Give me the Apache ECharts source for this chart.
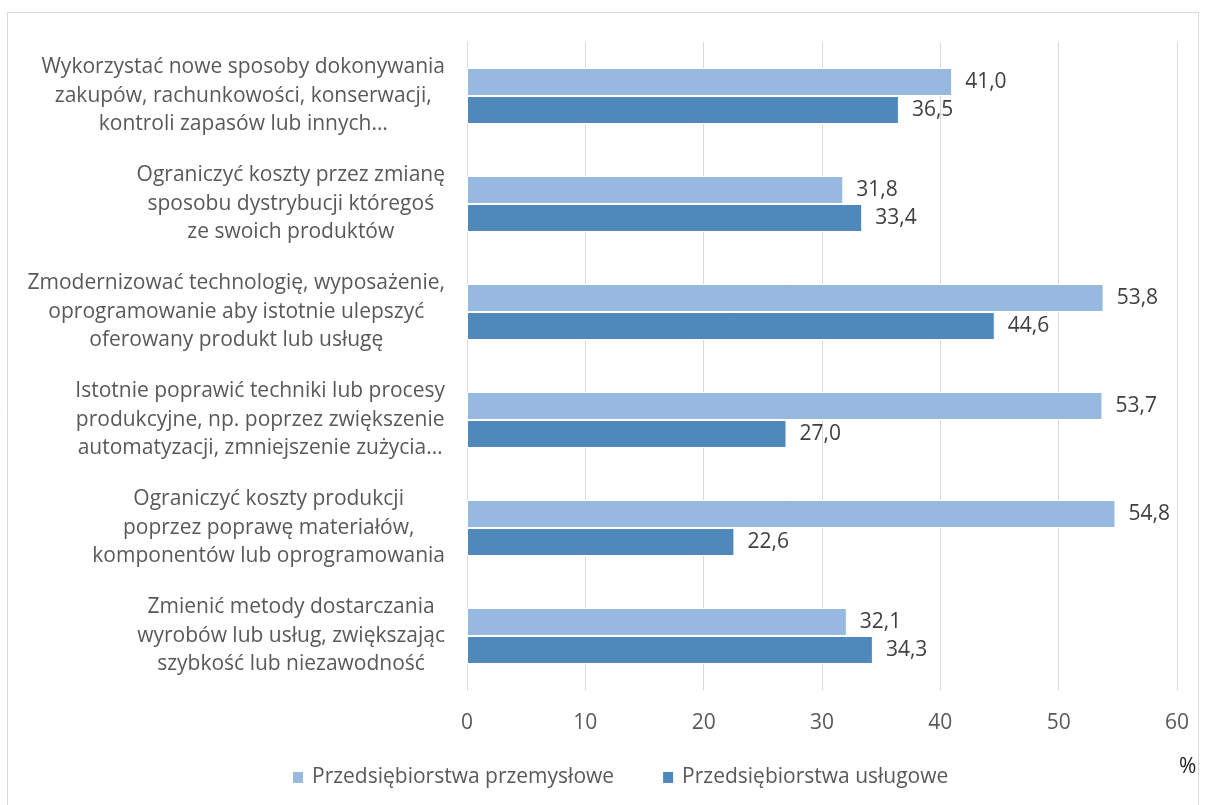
<!DOCTYPE html>
<html>
<head>
<meta charset="utf-8">
<script src="https://cdn.jsdelivr.net/npm/echarts@6/dist/echarts.min.js"></script>
<style>
html,body{margin:0;padding:0;background:#fff;}
#chart{width:1205px;height:805px;}
</style>
</head>
<body>
<div id="chart"></div>
<script>
var categories = [
  ["Wykorzystać nowe sposoby dokonywania", "zakupów, rachunkowości, konserwacji,", "kontroli zapasów lub innych…"],
  ["Ograniczyć koszty przez zmianę", "sposobu dystrybucji któregoś", "ze swoich produktów"],
  ["Zmodernizować technologię, wyposażenie,", "oprogramowanie aby istotnie ulepszyć", "oferowany produkt lub usługę"],
  ["Istotnie poprawić techniki lub procesy", "produkcyjne, np. poprzez zwiększenie", "automatyzacji, zmniejszenie zużycia…"],
  ["Ograniczyć koszty produkcji", "poprzez poprawę materiałów,", "komponentów lub oprogramowania"],
  ["Zmienić metody dostarczania", "wyrobów lub usług, zwiększając", "szybkość lub niezawodność"]
];
var seriesNames = ["Przedsiębiorstwa przemysłowe", "Przedsiębiorstwa usługowe"];
var przemyslowe = [41.0, 31.8, 53.8, 53.7, 54.8, 32.1];
var uslugowe = [36.5, 33.4, 44.6, 27.0, 22.6, 34.3];
var xTicks = [0, 10, 20, 30, 40, 50, 60];

var FONT = "Open Sans";
var TXT = "#595959";
var FS = 21;
var catLabels = categories.map(function (lines) { return lines.join("\n"); });

var chart = echarts.init(document.getElementById('chart'), null, {renderer: 'canvas'});
function fmt(v) { return v.toFixed(1).replace('.', ','); }

chart.setOption({
  animation: false,
  backgroundColor: '#fff',
  textStyle: {fontFamily: FONT},
  graphic: [
    {type: 'rect', shape: {x: 7.5, y: 12.5, width: 1191, height: 800}, style: {fill: 'none', stroke: '#D9D9D9', lineWidth: 1}, z: -1},
    {type: 'text', x: 1179, y: 767, style: {text: '%', fontSize: FS, fontFamily: FONT, fill: '#222', verticalAlign: 'middle'}}
  ],
  legend: {
    left: 291, top: 767, padding: 0,
    itemWidth: 12, itemHeight: 13, itemGap: 47,
    icon: 'rect',
    textStyle: {fontSize: FS, color: TXT, fontFamily: FONT, padding: [0, 0, 0, 3]},
    data: seriesNames
  },
  grid: {left: 467, right: 28, top: 42, bottom: 115, containLabel: false},
  xAxis: {
    type: 'value', min: 0, max: 60, interval: 10,
    axisLine: {show: false}, axisTick: {show: false},
    splitLine: {show: true, lineStyle: {color: '#D9D9D9', width: 1}},
    axisLabel: {fontSize: FS, color: TXT, fontFamily: FONT, margin: 23,
      formatter: function (v) { return xTicks.indexOf(v) >= 0 ? String(v) : ''; }}
  },
  yAxis: {
    type: 'category', inverse: true, data: catLabels,
    axisLine: {show: true, lineStyle: {color: '#D9D9D9'}},
    axisTick: {show: false},
    axisLabel: {
      margin: 22, align: 'right',
      formatter: function (v) {
        return v.split("\n").map(function (l) { return '{c|' + l + '}'; }).join("\n");
      },
      rich: {c: {fontSize: FS, color: TXT, fontFamily: FONT, align: 'center', lineHeight: 28.5}}
    }
  },
  series: [
    {
      name: seriesNames[0], type: 'bar', data: przemyslowe,
      barWidth: 28, barGap: '0%',
      itemStyle: {color: '#97B9E0', borderColor: '#fff', borderWidth: 1},
      label: {show: true, position: 'right', distance: 13, fontSize: FS, color: '#404040', fontFamily: FONT,
        formatter: function (p) { return fmt(p.value); }}
    },
    {
      name: seriesNames[1], type: 'bar', data: uslugowe,
      barWidth: 28, barGap: '0%',
      itemStyle: {color: '#4F88BB', borderColor: '#fff', borderWidth: 1},
      label: {show: true, position: 'right', distance: 13, fontSize: FS, color: '#404040', fontFamily: FONT,
        formatter: function (p) { return fmt(p.value); }}
    }
  ]
});
</script>
</body>
</html>
